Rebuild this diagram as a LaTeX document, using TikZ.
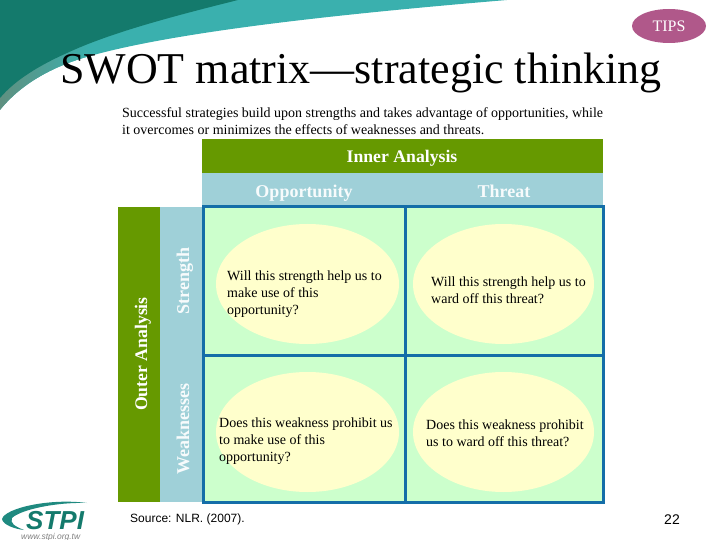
\documentclass[tikz,border=0pt]{standalone}
\usepackage{fontspec}
\usetikzlibrary{shapes.geometric}
\setmainfont{Liberation Serif}
\newfontfamily\arialfont{Liberation Sans}
\definecolor{olivebar}{HTML}{669900}
\definecolor{paleblue}{HTML}{9FD0D8}
\definecolor{gridblue}{HTML}{146EA8}
\definecolor{cellgreen}{HTML}{CCFFCC}
\definecolor{ovalyellow}{HTML}{FFFFCC}
\definecolor{darkteal}{HTML}{147A6C}
\definecolor{midteal}{HTML}{3AB0AE}
\definecolor{greyteal}{HTML}{5F9080}
\definecolor{tipspink}{HTML}{B0588A}
\tikzset{
  barlabel/.style={anchor=base,font=\fontsize{17.7}{18}\selectfont\bfseries,text=white},
  bandlabel/.style={anchor=base,font=\fontsize{18}{18}\selectfont\bfseries,text=white!92!paleblue},
  oval/.style={fill=ovalyellow},
  celltext/.style={font=\fontsize{14}{17}\selectfont,align=left,anchor=north west,inner sep=0pt},
  gridline/.style={draw=gridblue,line width=3pt}
}
\begin{document}
\begin{tikzpicture}[x=1pt,y=-1pt]
    \useasboundingbox (0,0) rectangle (720,540);
    % corner swoosh
    \fill [midteal] (0,0) -- (507,0) .. controls (340,14) and (170,32) .. (83,58) .. controls (50,68) and (20,85) .. (0,110) -- cycle;
    \shade [left color=greyteal,right color=midteal] (0,110) .. controls (20,85) and (50,68) .. (83,58) -- (90,56) -- (90,40) -- (67,50) .. controls (40,62) and (15,80) .. (0,96) -- cycle;
    \fill [darkteal] (0,0) -- (238,0) .. controls (170,17) and (110,33) .. (67,53) .. controls (40,65) and (15,80) .. (0,98) -- cycle;
    % heading
    \node [ellipse,fill=tipspink,minimum width=74pt,minimum height=34pt,inner sep=0pt,text=white,font=\fontsize{16}{16}\selectfont] (tips) at (669,26) {TIPS};
    \node [anchor=base west,inner sep=0pt,font=\fontsize{44}{44}\selectfont] (title) at (60,84) {SWOT matrix---strategic thinking};
    \node [anchor=north west,inner sep=0pt,align=left,font=\fontsize{14}{17}\selectfont] (intro) at (122,107) {Successful strategies build upon strengths and takes advantage of opportunities, while\\it overcomes or minimizes the effects of weaknesses and threats.};
    % bars
    \fill [olivebar] (202,139) rectangle (603,173);
    \fill [paleblue] (202,173) rectangle (603,207);
    \fill [olivebar] (118,207) rectangle (160,502);
    \fill [paleblue] (160,207) rectangle (202,502);
    \node [barlabel,inner sep=0pt] (inner) at (402,163) {Inner Analysis};
    \node [bandlabel,inner sep=0pt] (opp) at (304,197) {Opportunity};
    \node [bandlabel,inner sep=0pt] (threat) at (504,197) {Threat};
    \node [barlabel,inner sep=0pt,rotate=90] (outer) at (147,354) {Outer Analysis};
    \node [bandlabel,inner sep=0pt,rotate=90] (str) at (189,281) {Strength};
    \node [bandlabel,inner sep=0pt,rotate=90] (weak) at (189,429) {Weaknesses};
    % matrix
    \fill [cellgreen] (203,207) rectangle (603,502);
    \fill [oval] (307.5,284) ellipse (91.5 and 60);
    \fill [oval] (503.5,284) ellipse (90.5 and 60);
    \fill [oval] (307.5,432) ellipse (91.5 and 60);
    \fill [oval] (503.5,432) ellipse (90.5 and 60);
    \draw [gridline] (203,207) rectangle (603,502);
    \draw [gridline] (405,207) -- (405,502);
    \draw [gridline] (203,355) -- (603,355);
    \node [celltext] (so) at (227,271) {Will this strength help us to\\make use of this\\opportunity?};
    \node [celltext] (st) at (431,277) {Will this strength help us to\\ward off this threat?};
    \node [celltext] (wo) at (219,418) {Does this weakness prohibit us\\to make use of this\\opportunity?};
    \node [celltext] (wt) at (426,420) {Does this weakness prohibit\\us to ward off this threat?};
    % footer
    \node [anchor=base west,inner sep=0pt,font=\arialfont\fontsize{12}{12}\selectfont] (source) at (130,522) {Source: NLR. (2007).};
    \node [inner sep=0pt,font=\arialfont\fontsize{14}{14}\selectfont] (page) at (672,520) {22};
    % logo
    \fill [darkteal!70!midteal] (87,503) .. controls (50,498) and (5,508) .. (2,519) .. controls (3,525) and (15,529) .. (24,530) .. controls (14,526) and (10,523) .. (12,518) .. controls (20,510) and (55,502) .. (87,503) -- cycle;
    \node [anchor=base west,inner sep=0pt,text=darkteal,font=\arialfont\fontsize{26}{26}\selectfont\bfseries\itshape] (logo) at (26,529.5) {STPI};
    \node [anchor=base west,inner sep=0pt,text=gray,font=\arialfont\fontsize{8.5}{9}\selectfont\itshape] (web) at (21,539.5) {www.stpi.org.tw};
\end{tikzpicture}
\end{document}
